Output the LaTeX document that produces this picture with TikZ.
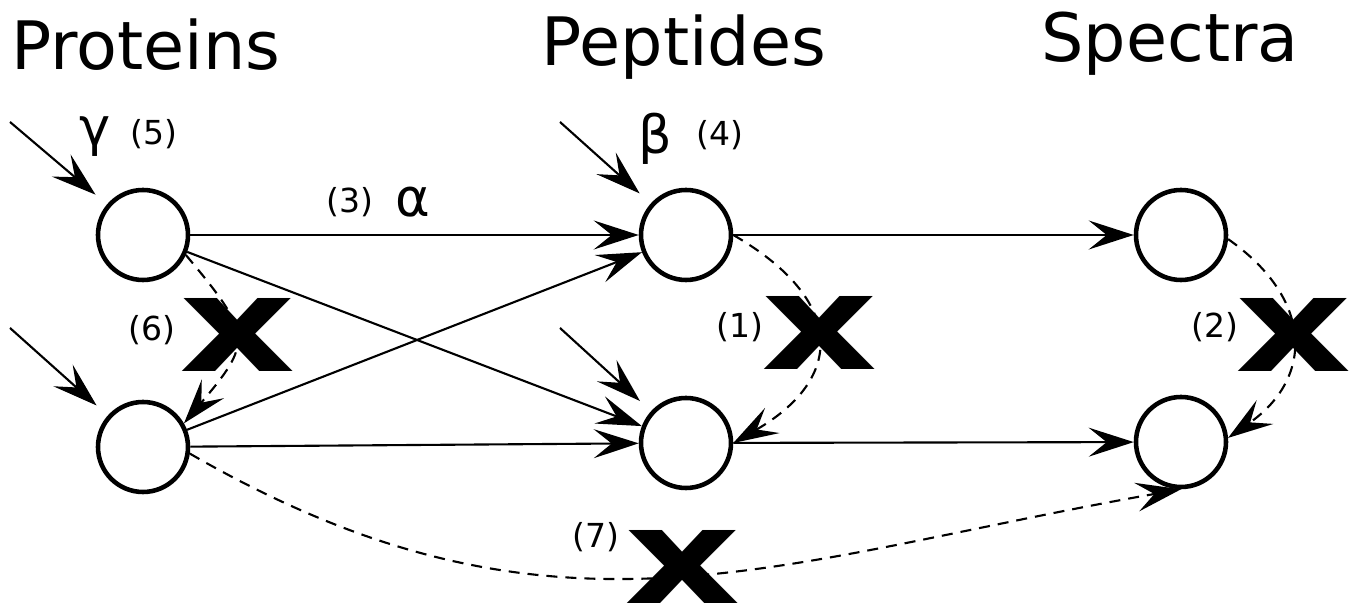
\documentclass[tikz,border=0pt]{standalone}
\usepackage{fontspec}
\setmainfont{DejaVu Sans}
\usetikzlibrary{arrows.meta}

\begin{document}
\begin{tikzpicture}[
  state/.style={circle, draw, line width=1.3pt, minimum size=9mm, inner sep=0pt},
  edge/.style={line width=0.6pt, -{Stealth[length=4.5mm, width=2.9mm, inset=1.8mm]}},
  feed/.style={edge, shorten >=1.5mm},
  link/.style={edge, dash pattern=on 1.1mm off 0.8mm},
  title/.style={font=\fontsize{19}{22}\selectfont, anchor=base},
  tag/.style={font=\fontsize{9.4}{11}\selectfont},
  greek/.style={font=\fontsize{15}{17}\selectfont},
  cross/.style={font=\fontsize{38}{40}\selectfont\bfseries, inner sep=0pt},
]
\useasboundingbox (0,0) rectangle (13.53,6.12);

\node[title] (tprot) at (1.46, 5.42) {Proteins};
\node[title] (tpep) at (6.84, 5.46) {Peptides};
\node[title] (tspec) at (11.70, 5.50) {Spectra};

\node[state] (p1) at (1.43, 3.77) {};
\node[state] (p2) at (1.43, 1.65) {};
\node[state] (pep1) at (6.86, 3.77) {};
\node[state] (pep2) at (6.86, 1.69) {};
\node[state] (s1) at (11.81, 3.77) {};
\node[state] (s2) at (11.81, 1.70) {};

\coordinate (in1) at (0.10, 4.90);
\coordinate (in2) at (0.10, 2.84);
\coordinate (in3) at (5.60, 4.90);
\coordinate (in4) at (5.60, 2.84);

\node[greek] (gamma) at (0.95, 4.75) {γ};
\node[tag] (l5) at (1.54, 4.78) {(5)};
\node[greek] (beta) at (6.55, 4.73) {β};
\node[tag] (l4) at (7.20, 4.77) {(4)};
\node[tag] (l3) at (3.50, 4.10) {(3)};
\node[greek] (alpha) at (4.13, 4.10) {α};
\node[tag] (l6) at (1.52, 2.82) {(6)};
\node[tag] (l1) at (7.40, 2.85) {(1)};
\node[tag] (l2) at (12.15, 2.85) {(2)};
\node[tag] (l7) at (5.96, 0.75) {(7)};

\draw[feed] (in1) -- (p1);
\draw[feed] (in2) -- (p2);
\draw[feed] (in3) -- (pep1);
\draw[feed] (in4) -- (pep2);

\draw[edge] (p1) -- (pep1);
\draw[edge] (p1) -- (pep2);
\draw[edge] (p2) -- (pep1);
\draw[edge] (p2) -- (pep2);
\draw[edge] (pep1) -- (s1);
\draw[edge] (pep2) -- (s2);

\draw[link] (p1.-25) to[out=-50, in=50, looseness=1.6] (p2.30);
\draw[link] (pep1.east) to[out=-30, in=30, looseness=1.6] (pep2.east);
\draw[link] (s1.-5) to[out=-35, in=35, looseness=1.35] (s2.5);
\draw[link] (p2.-8) to[out=-30, in=190, looseness=1.08] (s2.south);

\node[cross] (x6) at (2.38, 2.77) {\scalebox{1.35}[1]{x}};
\node[cross] (x1) at (8.20, 2.79) {\scalebox{1.35}[1]{x}};
\node[cross] (x2) at (12.94, 2.77) {\scalebox{1.35}[1]{x}};
\node[cross] (x7) at (6.83, 0.45) {\scalebox{1.35}[1]{x}};

\end{tikzpicture}
\end{document}
